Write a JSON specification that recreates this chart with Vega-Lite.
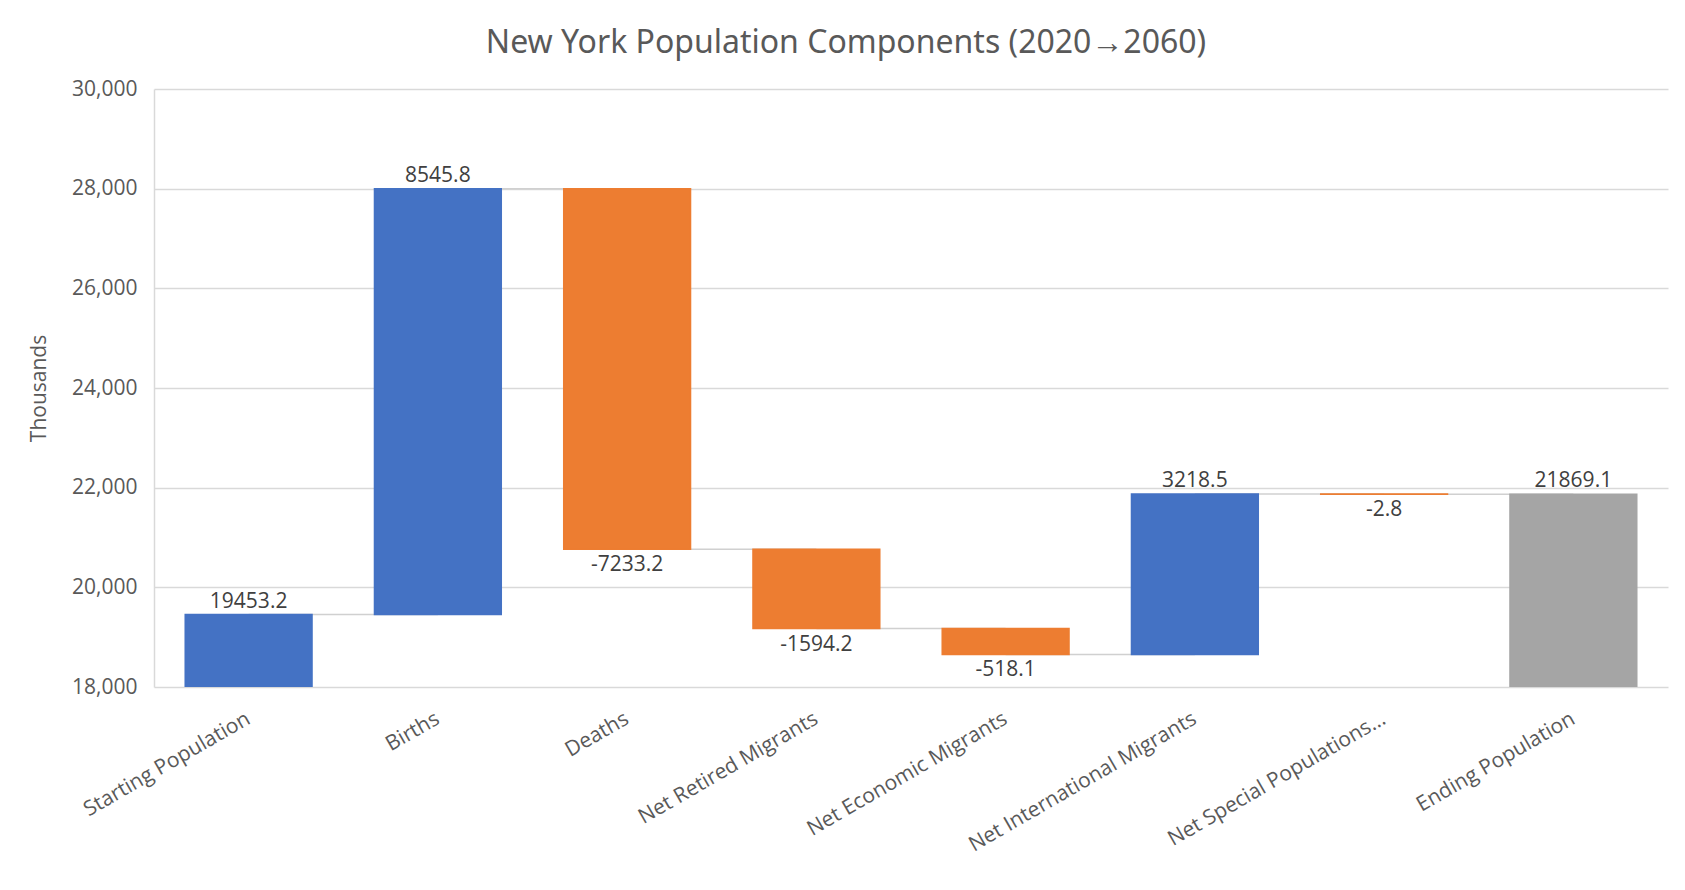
{
  "$schema": "https://vega.github.io/schema/vega-lite/v6.json",
  "width": 1514,
  "height": 598,
  "autosize": {"type": "none"},
  "padding": {"left": 154, "top": 89, "right": 17, "bottom": 203},
  "background": "#ffffff",
  "config": {"font": "Open Sans", "view": {"stroke": null}},
  "title": {
    "text": "New York Population Components (2020→2060)",
    "font": "Noto Sans",
    "fontSize": 32,
    "fontWeight": "normal",
    "color": "#595959",
    "anchor": "middle",
    "baseline": "alphabetic",
    "dx": -65,
    "offset": -7
  },
  "datasets": {
    "bars": [
      {"cat": "Starting Population", "label": "19453.2", "start": 0, "end": 19453.2, "type": "pos"},
      {"cat": "Births", "label": "8545.8", "start": 19453.2, "end": 27999.0, "type": "pos"},
      {"cat": "Deaths", "label": "-7233.2", "start": 27999.0, "end": 20765.8, "type": "neg"},
      {"cat": "Net Retired Migrants", "label": "-1594.2", "start": 20765.8, "end": 19171.6, "type": "neg"},
      {"cat": "Net Economic Migrants", "label": "-518.1", "start": 19171.6, "end": 18653.5, "type": "neg"},
      {"cat": "Net International Migrants", "label": "3218.5", "start": 18653.5, "end": 21872.0, "type": "pos"},
      {"cat": "Net Special Populations...", "label": "-2.8", "start": 21872.0, "end": 21869.2, "type": "neg"},
      {"cat": "Ending Population", "label": "21869.1", "start": 0, "end": 21869.1, "type": "total"}
    ],
    "connectors": [
      {"from": "Starting Population", "to": "Births", "level": 19453.2},
      {"from": "Births", "to": "Deaths", "level": 27999.0},
      {"from": "Deaths", "to": "Net Retired Migrants", "level": 20765.8},
      {"from": "Net Retired Migrants", "to": "Net Economic Migrants", "level": 19171.6},
      {"from": "Net Economic Migrants", "to": "Net International Migrants", "level": 18653.5},
      {"from": "Net International Migrants", "to": "Net Special Populations...", "level": 21872.0},
      {"from": "Net Special Populations...", "to": "Ending Population", "level": 21869.2}
    ]
  },
  "layer": [
    {
      "data": {"name": "connectors"},
      "mark": {"type": "rule", "color": "#d0d0d0", "strokeWidth": 1.5},
      "encoding": {
        "x": {
          "field": "from", "type": "nominal", "sort": null,
          "scale": {
            "domain": ["Starting Population", "Births", "Deaths", "Net Retired Migrants", "Net Economic Migrants", "Net International Migrants", "Net Special Populations...", "Ending Population"],
            "paddingInner": 0.33, "paddingOuter": 0.165
          },
          "title": null,
          "axis": {
            "labelAngle": -30, "labelAlign": "right", "labelBaseline": "middle",
            "labelFontSize": 21, "labelColor": "#595959", "labelPadding": 30,
            "ticks": false, "domain": false, "grid": false, "labelLimit": 400
          }
        },
        "x2": {"field": "to"},
        "y": {
          "field": "level", "type": "quantitative",
          "scale": {"domain": [18000, 30000], "nice": false, "zero": false},
          "title": "Thousands",
          "axis": {
            "values": [18000, 20000, 22000, 24000, 26000, 28000, 30000],
            "format": ",.0f",
            "labelFontSize": 21, "labelColor": "#595959", "labelPadding": 17,
            "ticks": false, "domain": true, "domainColor": "#d9d9d9", "domainWidth": 1.5,
            "grid": true, "gridColor": "#d9d9d9", "gridWidth": 1.5,
            "titleFontSize": 21, "titleFontWeight": "normal", "titleColor": "#595959",
            "titlePadding": 22
          }
        }
      }
    },
    {
      "data": {"name": "bars"},
      "mark": {"type": "bar", "clip": true, "strokeWidth": 1.5},
      "encoding": {
        "x": {"field": "cat", "type": "nominal", "sort": null},
        "y": {"field": "end", "type": "quantitative"},
        "y2": {"field": "start"},
        "color": {
          "field": "type", "type": "nominal", "legend": null,
          "scale": {"domain": ["pos", "neg", "total"], "range": ["#4472C4", "#ED7D31", "#A5A5A5"]}
        },
        "stroke": {
          "field": "type", "type": "nominal", "legend": null,
          "scale": {"domain": ["pos", "neg", "total"], "range": ["#4472C4", "#ED7D31", "#A5A5A5"]}
        }
      }
    },
    {
      "data": {"name": "bars"},
      "transform": [{"filter": "datum.type !== 'neg'"}],
      "mark": {"type": "text", "baseline": "bottom", "dy": -3, "fontSize": 21, "color": "#404040"},
      "encoding": {
        "x": {"field": "cat", "type": "nominal", "sort": null},
        "y": {"field": "end", "type": "quantitative"},
        "text": {"field": "label", "type": "nominal"}
      }
    },
    {
      "data": {"name": "bars"},
      "transform": [{"filter": "datum.type === 'neg'"}],
      "mark": {"type": "text", "baseline": "top", "dy": 5, "fontSize": 21, "color": "#404040"},
      "encoding": {
        "x": {"field": "cat", "type": "nominal", "sort": null},
        "y": {"field": "end", "type": "quantitative"},
        "text": {"field": "label", "type": "nominal"}
      }
    }
  ]
}
